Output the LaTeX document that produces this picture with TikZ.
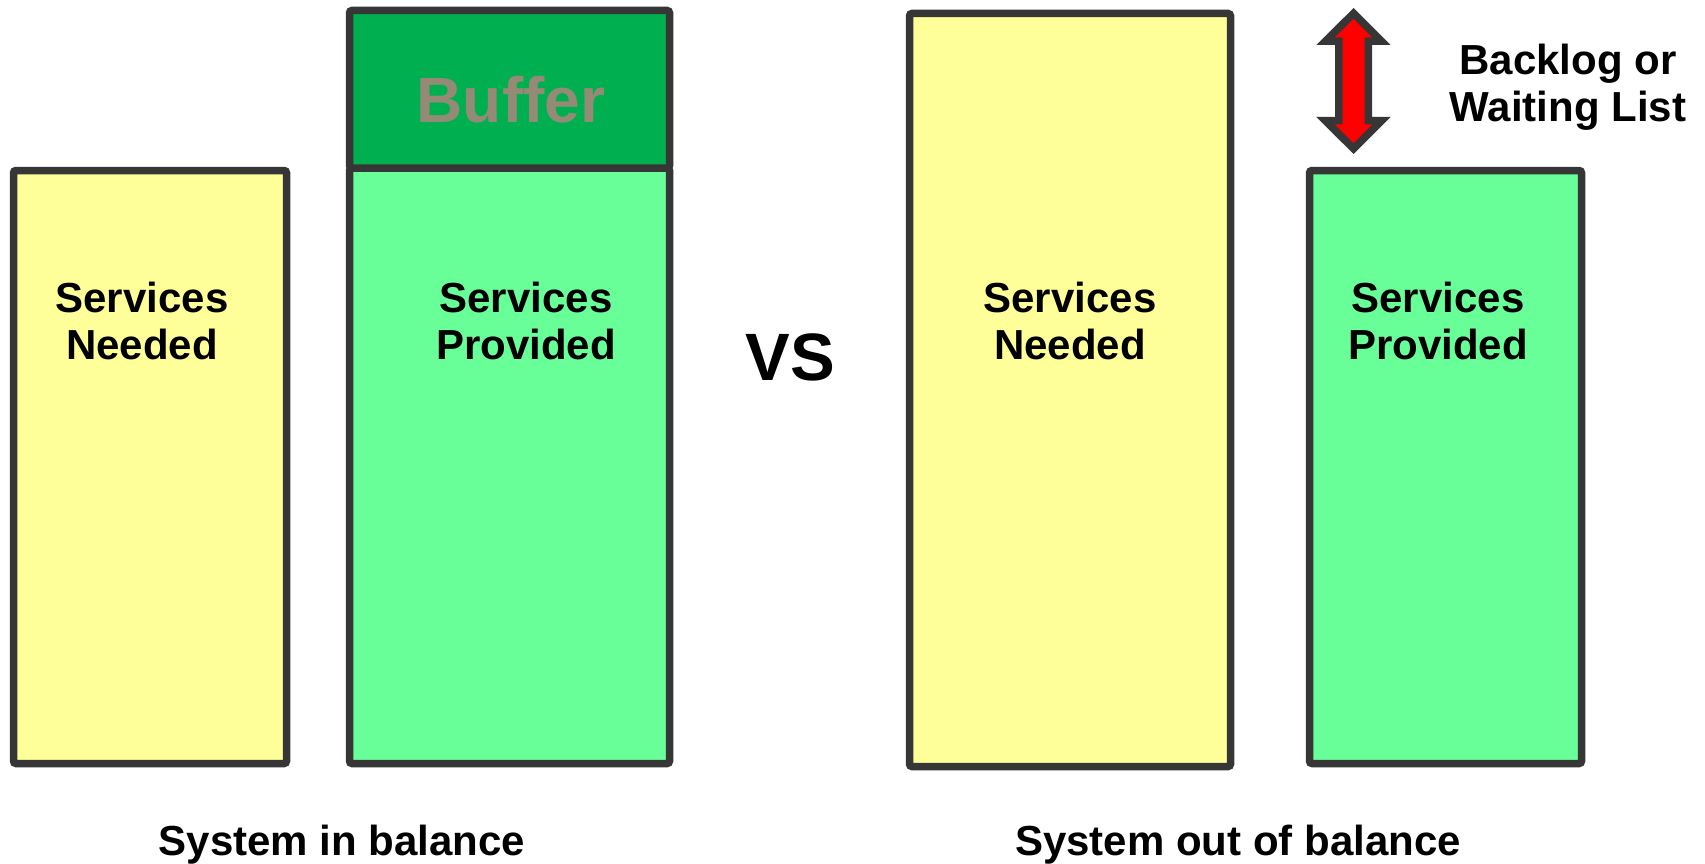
\documentclass[tikz,border=0pt]{standalone}
\usepackage{fontspec}
\setmainfont{Liberation Sans}
\definecolor{edgegray}{HTML}{363636}
\definecolor{needyellow}{HTML}{FFFF99}
\definecolor{provgreen}{HTML}{69FF98}
\definecolor{bufgreen}{HTML}{00B050}
\definecolor{buftext}{HTML}{948A76}
\definecolor{arrowred}{HTML}{FF0000}
\tikzset{
  bar/.style={draw=edgegray, line width=7.5pt, rounded corners=2.5pt, inner sep=0pt, outer sep=0pt, rectangle},
  needbar/.style={bar, fill=needyellow},
  provbar/.style={bar, fill=provgreen},
  bufbar/.style={bar, fill=bufgreen},
  barlabel/.style={font=\bfseries\fontsize{42}{47}\selectfont, align=center, inner sep=0pt, anchor=north},
  caption/.style={font=\bfseries\fontsize{42}{47}\selectfont, inner sep=0pt, anchor=base},
  bigarrow/.style={draw=edgegray, fill=arrowred, line width=7.5pt, line join=miter}
}
\begin{document}
\begin{tikzpicture}[x=1pt,y=-1pt]
\useasboundingbox (0,0) rectangle (1705,864);
% bars
\node[needbar, minimum width=273pt, minimum height=593pt] (needL) at (150,467) {};
\node[provbar, minimum width=320pt, minimum height=595.5pt] (provL) at (509.5,465.75) {};
\node[bufbar, minimum width=320pt, minimum height=157.5pt] (buf) at (509.5,89.25) {};
\node[needbar, minimum width=321pt, minimum height=753pt] (needR) at (1070,390) {};
\node[provbar, minimum width=272pt, minimum height=593pt] (provR) at (1445.5,467) {};
% labels
\node[barlabel] (tNeedL) at (142,282) {Services\\Needed};
\node[barlabel] (tProvL) at (526,282) {Services\\Provided};
\node[barlabel] (tNeedR) at (1070,282) {Services\\Needed};
\node[barlabel] (tProvR) at (1438,282) {Services\\Provided};
\node[font=\bfseries\fontsize{64}{70}\selectfont, text=buftext, inner sep=0pt, anchor=base] (tBuf) at (511,123) {Buffer};
\node[font=\bfseries\fontsize{67}{72}\selectfont, inner sep=0pt, anchor=base] (vs) at (790,380) {VS};
\node[barlabel] (backlog) at (1568,44) {Backlog or\\Waiting List};
\node[caption] (capL) at (342,855) {System in balance};
\node[caption] (capR) at (1238,855) {System out of balance};
% double arrow (backlog gap)
\coordinate (arrowtop) at (1353.5,13.3);
\coordinate (arrowbot) at (1353.5,148.7);
\draw[bigarrow] (arrowtop) -- (1381.5,41.25) -- (1368.25,41.25) -- (1368.25,120.75)
  -- (1381.5,120.75) -- (arrowbot) -- (1325.5,120.75) -- (1338.75,120.75)
  -- (1338.75,41.25) -- (1325.5,41.25) -- cycle;
\end{tikzpicture}
\end{document}
